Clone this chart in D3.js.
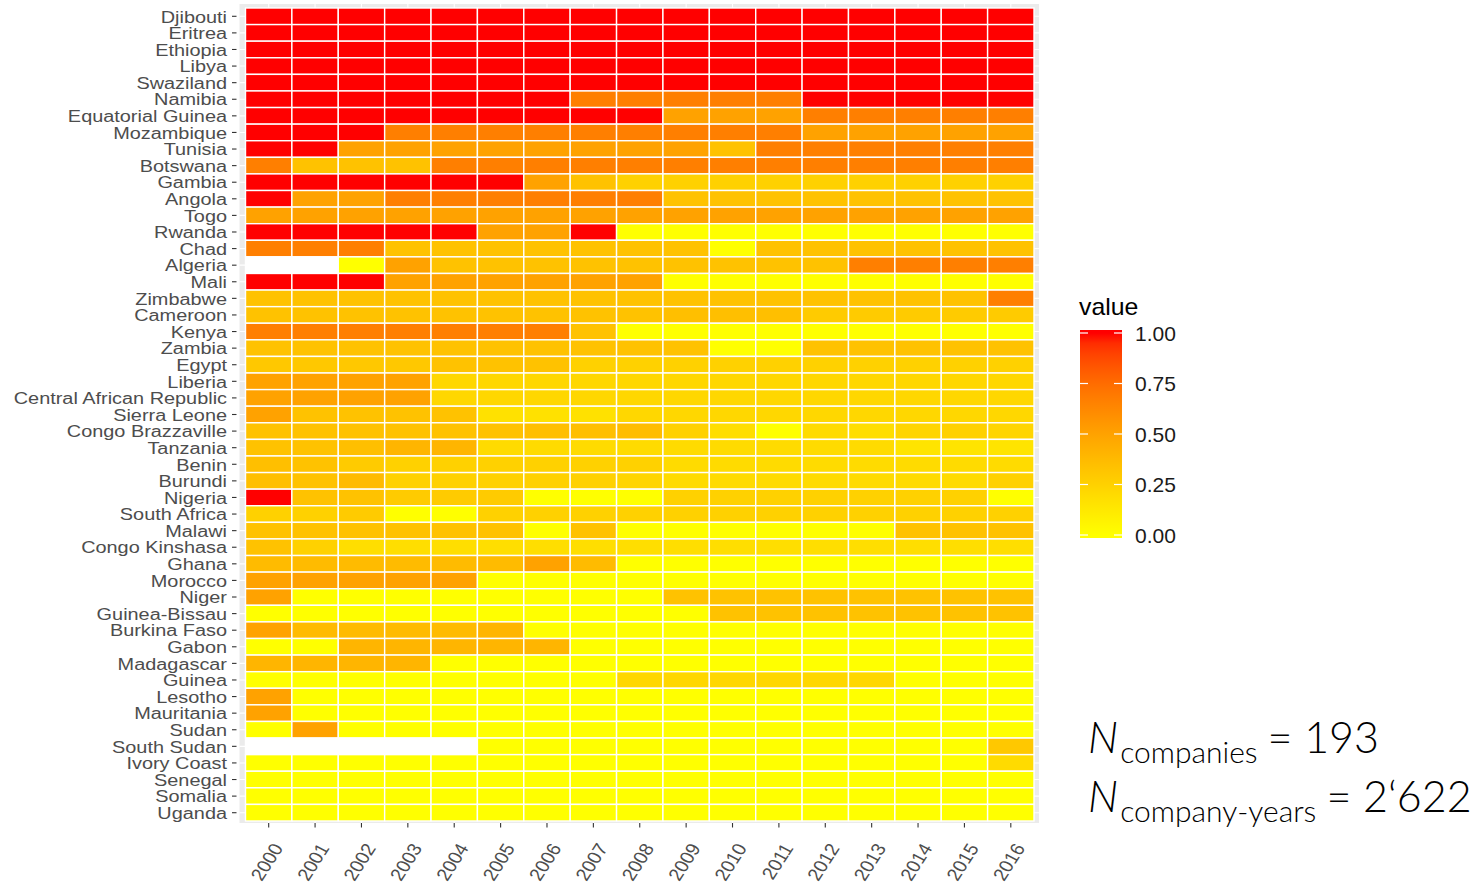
<!DOCTYPE html>
<html>
<head>
<meta charset="utf-8">
<script src="https://cdn.jsdelivr.net/npm/d3@7"></script>
<style>
  html, body { margin: 0; padding: 0; background: #ffffff; }
  svg { display: block; }
</style>
</head>
<body>
<svg id="chart" width="1475" height="887"></svg>
<script>
// Countries, top to bottom
const countries = [
  "Djibouti", "Eritrea", "Ethiopia", "Libya", "Swaziland", "Namibia",
  "Equatorial Guinea", "Mozambique", "Tunisia", "Botswana", "Gambia", "Angola",
  "Togo", "Rwanda", "Chad", "Algeria", "Mali", "Zimbabwe", "Cameroon", "Kenya",
  "Zambia", "Egypt", "Liberia", "Central African Republic", "Sierra Leone",
  "Congo Brazzaville", "Tanzania", "Benin", "Burundi", "Nigeria", "South Africa",
  "Malawi", "Congo Kinshasa", "Ghana", "Morocco", "Niger", "Guinea-Bissau",
  "Burkina Faso", "Gabon", "Madagascar", "Guinea", "Lesotho", "Mauritania",
  "Sudan", "South Sudan", "Ivory Coast", "Senegal", "Somalia", "Uganda"
];

const years = ["2000", "2001", "2002", "2003", "2004", "2005", "2006", "2007", "2008",
               "2009", "2010", "2011", "2012", "2013", "2014", "2015", "2016"];

// One row per country (same order), one value per year; null = no observation
const shares = [
  [1,1,1,1,1,1,1,1,1,1,1,1,1,1,1,1,1],
  [1,1,1,1,1,1,1,1,1,1,1,1,1,1,1,1,1],
  [1,1,1,1,1,1,1,1,1,1,1,1,1,1,1,1,1],
  [1,1,1,1,1,1,1,1,1,1,1,1,1,1,1,1,1],
  [1,1,1,1,1,1,1,1,1,1,1,1,1,1,1,1,1],
  [1,1,1,1,1,1,1,0.667,0.667,0.667,0.667,0.667,1,1,1,1,1],
  [1,1,1,1,1,1,1,1,1,0.5,0.5,0.5,0.667,0.667,0.667,0.667,0.667],
  [1,1,1,0.667,0.667,0.667,0.667,0.667,0.667,0.667,0.667,0.667,0.5,0.5,0.5,0.5,0.5],
  [1,1,0.5,0.5,0.5,0.5,0.5,0.5,0.5,0.5,0.333,0.667,0.667,0.667,0.667,0.667,0.667],
  [0.667,0.333,0.333,0.333,0.667,0.667,0.667,0.667,0.667,0.667,0.667,0.667,0.667,0.667,0.667,0.667,0.667],
  [1,1,1,1,1,1,0.5,0.333,0.25,0.25,0.25,0.25,0.25,0.25,0.25,0.25,0.25],
  [1,0.5,0.5,0.667,0.667,0.667,0.667,0.667,0.667,0.333,0.333,0.333,0.333,0.333,0.333,0.333,0.333],
  [0.5,0.5,0.5,0.5,0.5,0.5,0.5,0.5,0.5,0.5,0.5,0.5,0.5,0.5,0.5,0.5,0.5],
  [1,1,1,1,1,0.5,0.5,1,0,0,0,0,0,0,0,0,0],
  [0.667,0.667,0.667,0.333,0.333,0.333,0.333,0.333,0.333,0.333,0,0.333,0.333,0.333,0.333,0.333,0.333],
  [null,null,0,0.5,0.333,0.333,0.333,0.333,0.333,0.333,0.333,0.333,0.333,0.667,0.667,0.667,0.667],
  [1,1,1,0.5,0.5,0.5,0.5,0.5,0.5,0,0,0,0,0,0,0,0],
  [0.333,0.333,0.333,0.333,0.333,0.333,0.333,0.333,0.333,0.333,0.333,0.333,0.333,0.333,0.333,0.333,0.667],
  [0.333,0.333,0.333,0.333,0.333,0.333,0.333,0.333,0.333,0.35,0.35,0.35,0.286,0.286,0.286,0.286,0.286],
  [0.667,0.667,0.667,0.667,0.667,0.667,0.667,0.333,0,0,0,0,0,0,0,0,0],
  [0.333,0.333,0.333,0.333,0.333,0.333,0.333,0.333,0.333,0.333,0,0,0.333,0.333,0.333,0.333,0.333],
  [0.3,0.3,0.3,0.3,0.333,0.333,0.333,0.25,0.25,0.25,0.25,0.25,0.25,0.25,0.25,0.25,0.25],
  [0.5,0.5,0.5,0.5,0.222,0.222,0.222,0.222,0.222,0.222,0.222,0.222,0.222,0.222,0.222,0.222,0.222],
  [0.5,0.5,0.5,0.5,0.222,0.222,0.222,0.222,0.222,0.222,0.222,0.222,0.222,0.222,0.222,0.222,0.222],
  [0.5,0.333,0.333,0.333,0.333,0.167,0.167,0.167,0.222,0.222,0.222,0.222,0.222,0.222,0.222,0.222,0.222],
  [0.333,0.333,0.333,0.333,0.333,0.333,0.35,0.35,0.36,0.25,0.18,0,0.2,0.18,0.23,0.25,0.23],
  [0.333,0.333,0.35,0.4,0.4,0.2,0.2,0.2,0.2,0.2,0.2,0.2,0.2,0.2,0.15,0.15,0.15],
  [0.35,0.333,0.286,0.25,0.25,0.25,0.25,0.25,0.25,0.2,0.2,0.2,0.2,0.2,0.2,0.2,0.2],
  [0.35,0.333,0.37,0.25,0.25,0.25,0.25,0.25,0.23,0.2,0.2,0.2,0.2,0.2,0.2,0.2,0.25],
  [1,0.333,0.333,0.286,0.286,0.286,0,0,0,0.25,0.25,0.25,0.25,0.25,0.25,0.25,0],
  [0.25,0.25,0.286,0,0,0.25,0.25,0.25,0.25,0.25,0.25,0.25,0.25,0.25,0.25,0.25,0.25],
  [0.333,0.333,0.333,0.333,0.333,0.333,0,0.333,0,0,0,0,0,0,0.333,0.333,0.333],
  [0.333,0.25,0.18,0.18,0.18,0.18,0.18,0.18,0.18,0.18,0.18,0.18,0.18,0.18,0.18,0.18,0.18],
  [0.37,0.37,0.37,0.37,0.37,0.37,0.5,0.37,0,0,0,0,0,0,0,0,0],
  [0.5,0.5,0.5,0.5,0.5,0,0,0,0,0,0,0,0,0,0,0,0],
  [0.5,0,0,0,0,0,0,0,0,0.333,0.333,0.333,0.333,0.333,0.333,0.333,0.333],
  [0,0,0,0,0,0,0,0,0,0,0.333,0.333,0.333,0.333,0.333,0.333,0.333],
  [0.5,0.37,0.37,0.37,0.37,0.4,0,0,0,0,0,0,0,0,0,0,0],
  [0,0,0.4,0.4,0.4,0.4,0.4,0,0,0,0,0,0,0,0,0,0],
  [0.4,0.4,0.4,0.4,0,0,0,0,0,0,0,0,0,0,0,0,0],
  [0,0,0,0,0,0,0,0,0.222,0.222,0.222,0.222,0.222,0.222,0,0,0],
  [0.5,0,0,0,0,0,0,0,0,0,0,0,0,0,0,0,0],
  [0.5,0,0,0,0,0,0,0,0,0,0,0,0,0,0,0,0],
  [0,0.5,0,0,0,0,0,0,0,0,0,0,0,0,0,0,0],
  [null,null,null,null,null,0,0,0,0,0,0,0,0,0,0,0,0.3],
  [0,0,0,0,0,0,0,0,0,0,0,0,0,0,0,0,0.2],
  [0,0,0,0,0,0,0,0,0,0,0,0,0,0,0,0,0],
  [0,0,0,0,0,0,0,0,0,0,0,0,0,0,0,0,0],
  [0,0,0,0,0,0,0,0,0,0,0,0,0,0,0,0,0]
];

const legendTicks = [0, 0.25, 0.5, 0.75, 1];
const legendTitle = "value";
const sampleNotes = [
  { sub: "companies", value: "= 193" },
  { sub: "company-years", value: "= 2\u2018622" }
];

// ---- layout ----
const panel = { left: 239.5, right: 1039, top: 4, bottom: 823 };
const tiles = { left: 245.5, right: 1034, top: 8, bottom: 821 };
const axisFont = "'Liberation Sans', Arial, sans-serif";
const axisGrey = "#4d4d4d";
const stretch = 1.15;

const svg = d3.select("#chart");

const x = d3.scaleBand().domain(years).range([tiles.left, tiles.right]);
const y = d3.scaleBand().domain(countries).range([tiles.top, tiles.bottom]);
const fill = d3.scaleLinear().domain([0, 1]).range(["#ffff00", "#ff0000"])
  .interpolate(d3.interpolateLab);

// panel background and grid
svg.append("rect")
  .attr("x", panel.left).attr("y", panel.top)
  .attr("width", panel.right - panel.left).attr("height", panel.bottom - panel.top)
  .attr("fill", "#ebebeb");

const grid = svg.append("g").attr("stroke", "#ffffff").attr("stroke-width", 1.1);
grid.selectAll("line.v").data(years).join("line")
  .attr("x1", d => x(d) + x.bandwidth() / 2).attr("x2", d => x(d) + x.bandwidth() / 2)
  .attr("y1", panel.top).attr("y2", panel.bottom);
grid.selectAll("line.h").data(countries).join("line")
  .attr("y1", d => y(d) + y.bandwidth() / 2).attr("y2", d => y(d) + y.bandwidth() / 2)
  .attr("x1", panel.left).attr("x2", panel.right);

// tiles
const cells = [];
countries.forEach((c, i) => {
  years.forEach((yr, j) => cells.push({ country: c, year: yr, value: shares[i][j] }));
});

svg.append("g").selectAll("rect").data(cells).join("rect")
  .attr("x", d => x(d.year))
  .attr("y", d => y(d.country))
  .attr("width", x.bandwidth())
  .attr("height", y.bandwidth())
  .attr("fill", d => d.value === null ? "#ffffff" : fill(d.value))
  .attr("stroke", "#ffffff")
  .attr("stroke-width", 1.4);

// y axis
const yAxis = svg.append("g");
yAxis.selectAll("line").data(countries).join("line")
  .attr("x1", 232).attr("x2", 236.5)
  .attr("y1", d => y(d) + y.bandwidth() / 2).attr("y2", d => y(d) + y.bandwidth() / 2)
  .attr("stroke", "#333333").attr("stroke-width", 1.1);
yAxis.selectAll("text").data(countries).join("text")
  .attr("transform", d => `translate(227,${y(d) + y.bandwidth() / 2}) scale(${stretch},1)`)
  .attr("dy", "0.36em")
  .attr("text-anchor", "end")
  .attr("font-family", axisFont)
  .attr("font-size", 17.3)
  .attr("fill", axisGrey)
  .text(d => d);

// x axis
const xAxis = svg.append("g");
xAxis.selectAll("line").data(years).join("line")
  .attr("x1", d => x(d) + x.bandwidth() / 2).attr("x2", d => x(d) + x.bandwidth() / 2)
  .attr("y1", 823).attr("y2", 827.5)
  .attr("stroke", "#333333").attr("stroke-width", 1.1);
xAxis.selectAll("text").data(years).join("text")
  .attr("transform", d => `translate(${x(d) + x.bandwidth() / 2 + 15},848) scale(1.12,1) rotate(-60)`)
  .attr("text-anchor", "end")
  .attr("font-family", axisFont)
  .attr("font-size", 17.6)
  .attr("fill", axisGrey)
  .text(d => d);

// legend
const legend = svg.append("g");
const ly = d3.scaleLinear().domain([0, 1]).range([535, 333]);
const bar = { x: 1080, w: 42, top: 330, bottom: 538 };

const defs = svg.append("defs");
const grad = defs.append("linearGradient").attr("id", "valueGradient")
  .attr("x1", 0).attr("y1", 1).attr("x2", 0).attr("y2", 0);
const gradStops = d3.range(0, 1.0001, 0.05);
grad.selectAll("stop").data(gradStops).join("stop")
  .attr("offset", d => (bar.bottom - ly(d)) / (bar.bottom - bar.top))
  .attr("stop-color", d => fill(d));
// extend the end colours to the bar edges
grad.insert("stop", ":first-child").attr("offset", 0).attr("stop-color", fill(0));
grad.append("stop").attr("offset", 1).attr("stop-color", fill(1));

legend.append("rect")
  .attr("x", bar.x).attr("y", bar.top)
  .attr("width", bar.w).attr("height", bar.bottom - bar.top)
  .attr("fill", "url(#valueGradient)");

legend.selectAll("line.l").data(legendTicks).join("line")
  .attr("x1", bar.x).attr("x2", bar.x + 8)
  .attr("y1", d => ly(d)).attr("y2", d => ly(d))
  .attr("stroke", "#ffffff").attr("stroke-width", 1.2);
legend.selectAll("line.r").data(legendTicks).join("line")
  .attr("x1", bar.x + bar.w - 8).attr("x2", bar.x + bar.w)
  .attr("y1", d => ly(d)).attr("y2", d => ly(d))
  .attr("stroke", "#ffffff").attr("stroke-width", 1.2);

legend.selectAll("text.tick").data(legendTicks).join("text")
  .attr("x", 1135)
  .attr("y", d => ly(d))
  .attr("dy", "0.36em")
  .attr("font-family", axisFont)
  .attr("font-size", 21)
  .attr("fill", "#1a1a1a")
  .text(d => d3.format(".2f")(d));

legend.append("text")
  .attr("transform", `translate(1079,315) scale(1.08,1)`)
  .attr("font-family", axisFont)
  .attr("font-size", 23)
  .attr("fill", "#000000")
  .text(legendTitle);

// sample size notes
const notes = svg.append("g")
  .attr("font-family", "Lato, 'Open Sans', sans-serif")
  .attr("font-weight", 300)
  .attr("fill", "#000000");
const noteBase = [753, 812];
sampleNotes.forEach((n, i) => {
  const t = notes.append("text").attr("x", 1088).attr("y", noteBase[i]);
  t.append("tspan").attr("font-size", 43).attr("font-style", "italic").text("N");
  t.append("tspan").attr("font-size", 30).attr("dy", 10).attr("dx", 2).text(n.sub);
  t.append("tspan").attr("font-size", 43).attr("dy", -10).attr("dx", 10).text(n.value);
});
</script>
</body>
</html>
